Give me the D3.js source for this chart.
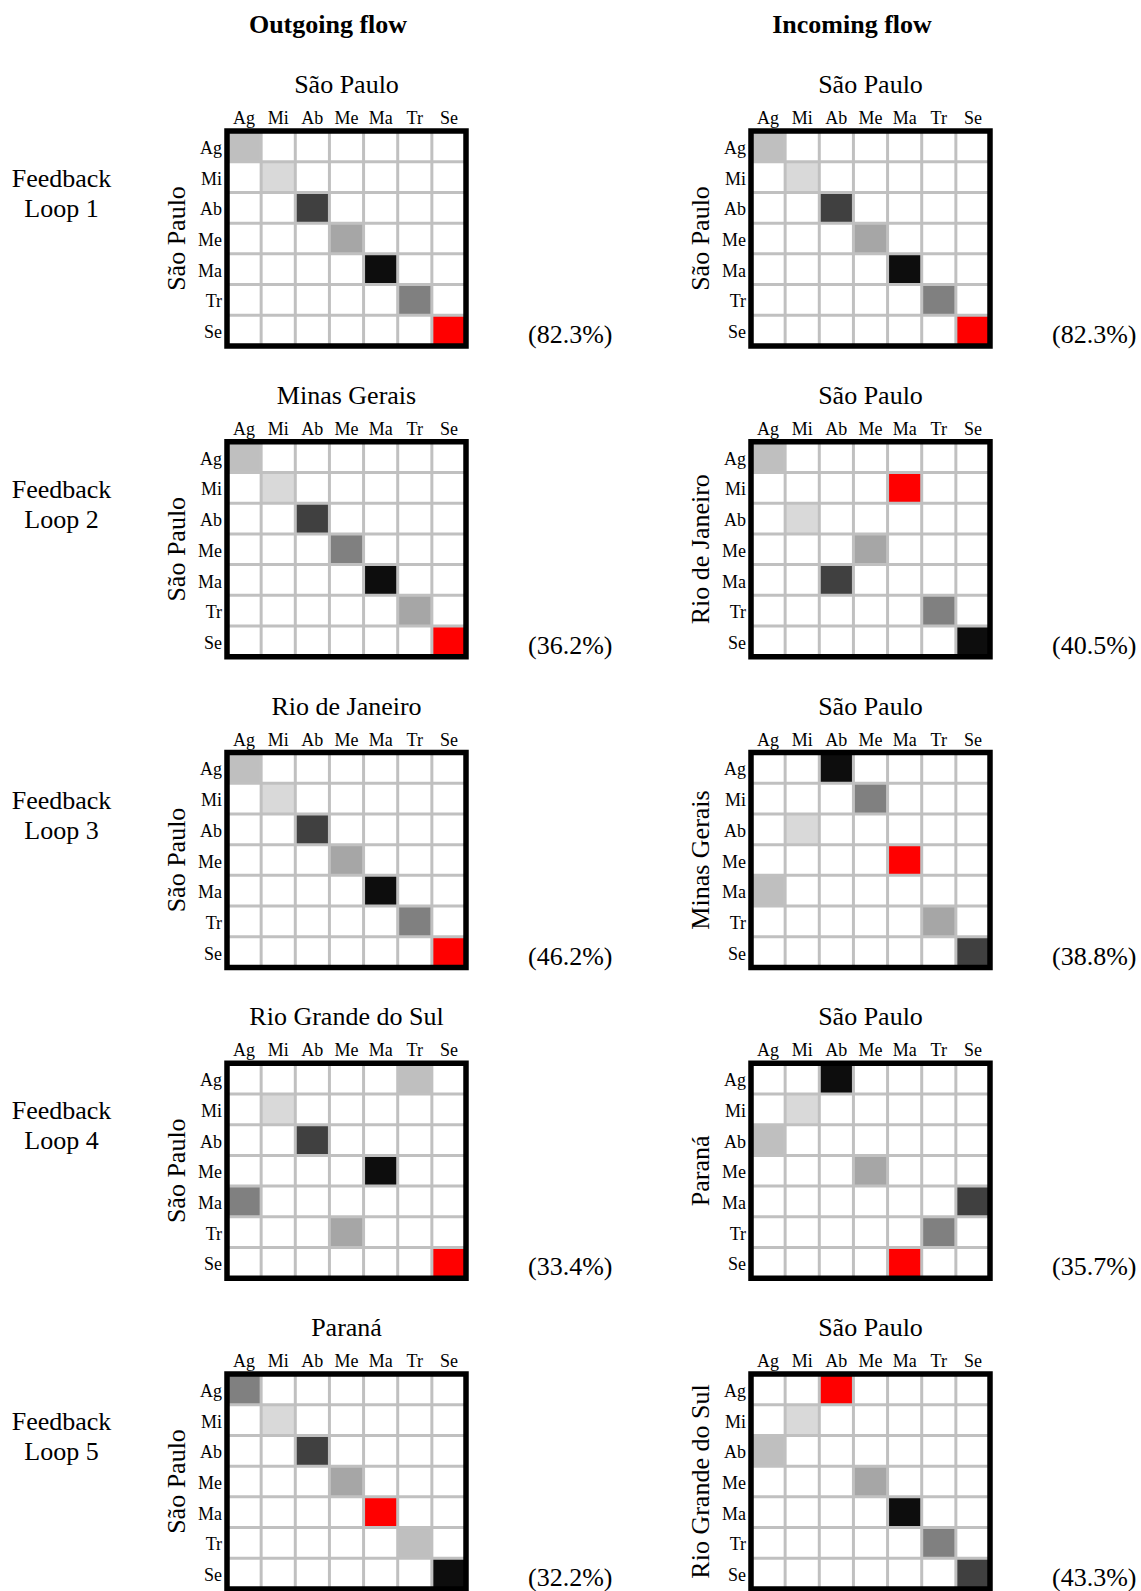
<!DOCTYPE html>
<html>
<head>
<meta charset="utf-8">
<script src="https://cdn.jsdelivr.net/npm/d3@7"></script>
<style>
  body { margin: 0; background: #fff; }
  svg text { font-family: "Liberation Serif", "DejaVu Serif", serif; fill: #000; }
</style>
</head>
<body>
<div id="chart"></div>
<script>
// feedback loop matrices: outgoing vs incoming flow
const sectors = ["Ag", "Mi", "Ab", "Me", "Ma", "Tr", "Se"];
const loopNames = ["Loop 1", "Loop 2", "Loop 3", "Loop 4", "Loop 5"];
const panelHeaders = ["Outgoing flow", "Incoming flow"];

// outgoing column
const outTitles = ["São Paulo", "Minas Gerais", "Rio de Janeiro", "Rio Grande do Sul", "Paraná"];
const outRowNames = ["São Paulo", "São Paulo", "São Paulo", "São Paulo", "São Paulo"];
const outShares = ["(82.3%)", "(36.2%)", "(46.2%)", "(33.4%)", "(32.2%)"];
// for each row sector: the column sector of the marked cell
const outCols = [
  ["Ag", "Mi", "Ab", "Me", "Ma", "Tr", "Se"],
  ["Ag", "Mi", "Ab", "Me", "Ma", "Tr", "Se"],
  ["Ag", "Mi", "Ab", "Me", "Ma", "Tr", "Se"],
  ["Tr", "Mi", "Ab", "Ma", "Ag", "Me", "Se"],
  ["Ag", "Mi", "Ab", "Me", "Ma", "Tr", "Se"]
];
// rank of that cell (1 = lightest ... 7 = highest, red)
const outRanks = [
  [2, 1, 5, 3, 6, 4, 7],
  [2, 1, 5, 4, 6, 3, 7],
  [2, 1, 5, 3, 6, 4, 7],
  [2, 1, 5, 6, 4, 3, 7],
  [4, 1, 5, 3, 7, 2, 6]
];

// incoming column
const inTitles = ["São Paulo", "São Paulo", "São Paulo", "São Paulo", "São Paulo"];
const inRowNames = ["São Paulo", "Rio de Janeiro", "Minas Gerais", "Paraná", "Rio Grande do Sul"];
const inShares = ["(82.3%)", "(40.5%)", "(38.8%)", "(35.7%)", "(43.3%)"];
const inCols = [
  ["Ag", "Mi", "Ab", "Me", "Ma", "Tr", "Se"],
  ["Ag", "Ma", "Mi", "Me", "Ab", "Tr", "Se"],
  ["Ab", "Me", "Mi", "Ma", "Ag", "Tr", "Se"],
  ["Ab", "Mi", "Ag", "Me", "Se", "Tr", "Ma"],
  ["Ab", "Mi", "Ag", "Me", "Ma", "Tr", "Se"]
];
const inRanks = [
  [2, 1, 5, 3, 6, 4, 7],
  [2, 7, 1, 3, 5, 4, 6],
  [6, 4, 1, 7, 2, 3, 5],
  [6, 1, 2, 3, 5, 4, 7],
  [7, 1, 2, 3, 6, 4, 5]
];

const W = 1141, H = 1591;
const gridLeft = 227, gridW = 239, gridTop = 131, gridH = 215;
const colStep = 524, rowStep = 310.75;

const shade = d3.scaleOrdinal()
  .domain([1, 2, 3, 4, 5, 6, 7])
  .range(["#d9d9d9", "#bfbfbf", "#a6a6a6", "#808080", "#404040", "#0d0d0d", "#ff0000"]);

const svg = d3.select("#chart").append("svg")
  .attr("width", W).attr("height", H);

const x = d3.scaleBand().domain(sectors).range([0, gridW]);
const y = d3.scaleBand().domain(sectors).range([0, gridH]);

const panels = [
  { titles: outTitles, rowNames: outRowNames, shares: outShares, cols: outCols, ranks: outRanks },
  { titles: inTitles, rowNames: inRowNames, shares: inShares, cols: inCols, ranks: inRanks }
];

panels.forEach((p, pi) => {
  svg.append("text")
    .attr("x", 328 + pi * colStep).attr("y", 33)
    .attr("text-anchor", "middle")
    .style("font-size", "26px").style("font-weight", "bold")
    .text(panelHeaders[pi]);

  p.titles.forEach((title, li) => {
    const g = svg.append("g")
      .attr("transform", `translate(${gridLeft + pi * colStep},${gridTop + li * rowStep})`);

    const cells = [];
    sectors.forEach(r => sectors.forEach(c => cells.push({ r, c })));
    g.selectAll("rect.cell").data(cells).join("rect")
      .attr("class", "cell")
      .attr("x", d => x(d.c)).attr("y", d => y(d.r))
      .attr("width", x.bandwidth()).attr("height", y.bandwidth())
      .attr("fill", d => {
        const i = sectors.indexOf(d.r);
        return p.cols[li][i] === d.c ? shade(p.ranks[li][i]) : "#fff";
      });

    // grid lines
    g.selectAll("line.v").data(sectors.slice(1)).join("line")
      .attr("x1", d => x(d)).attr("x2", d => x(d))
      .attr("y1", 0).attr("y2", gridH)
      .attr("stroke", "#c0c0c0").attr("stroke-width", 3);
    g.selectAll("line.h").data(sectors.slice(1)).join("line")
      .attr("y1", d => y(d)).attr("y2", d => y(d))
      .attr("x1", 0).attr("x2", gridW)
      .attr("stroke", "#c0c0c0").attr("stroke-width", 3);

    g.append("rect")
      .attr("width", gridW).attr("height", gridH)
      .attr("fill", "none").attr("stroke", "#000").attr("stroke-width", 5.5);

    // axes
    const ax = g.append("g").call(d3.axisTop(x).tickSize(0).tickPadding(7));
    const ay = g.append("g").call(d3.axisLeft(y).tickSize(0).tickPadding(5));
    [ax, ay].forEach(a => {
      a.select(".domain").remove();
      a.attr("font-family", null).attr("font-size", null);
      a.selectAll("text").style("font-size", "18px");
    });
    ay.selectAll("text").attr("dy", "0.42em");

    g.append("text")
      .attr("x", gridW / 2).attr("y", -38)
      .attr("text-anchor", "middle")
      .style("font-size", "26px")
      .text(title);

    g.append("text")
      .attr("transform", `translate(-42,${gridH / 2}) rotate(-90)`)
      .attr("text-anchor", "middle")
      .style("font-size", "26px")
      .text(p.rowNames[li]);

    g.append("text")
      .attr("x", gridW + 62).attr("y", gridH - 3)
      .style("font-size", "26px")
      .text(p.shares[li]);

    if (pi === 0) {
      const t = svg.append("text")
        .attr("text-anchor", "middle")
        .style("font-size", "26px");
      t.append("tspan").attr("x", 61.5).attr("y", gridTop + li * rowStep + 56).text("Feedback");
      t.append("tspan").attr("x", 61.5).attr("y", gridTop + li * rowStep + 86).text(loopNames[li]);
    }
  });
});
</script>
</body>
</html>
